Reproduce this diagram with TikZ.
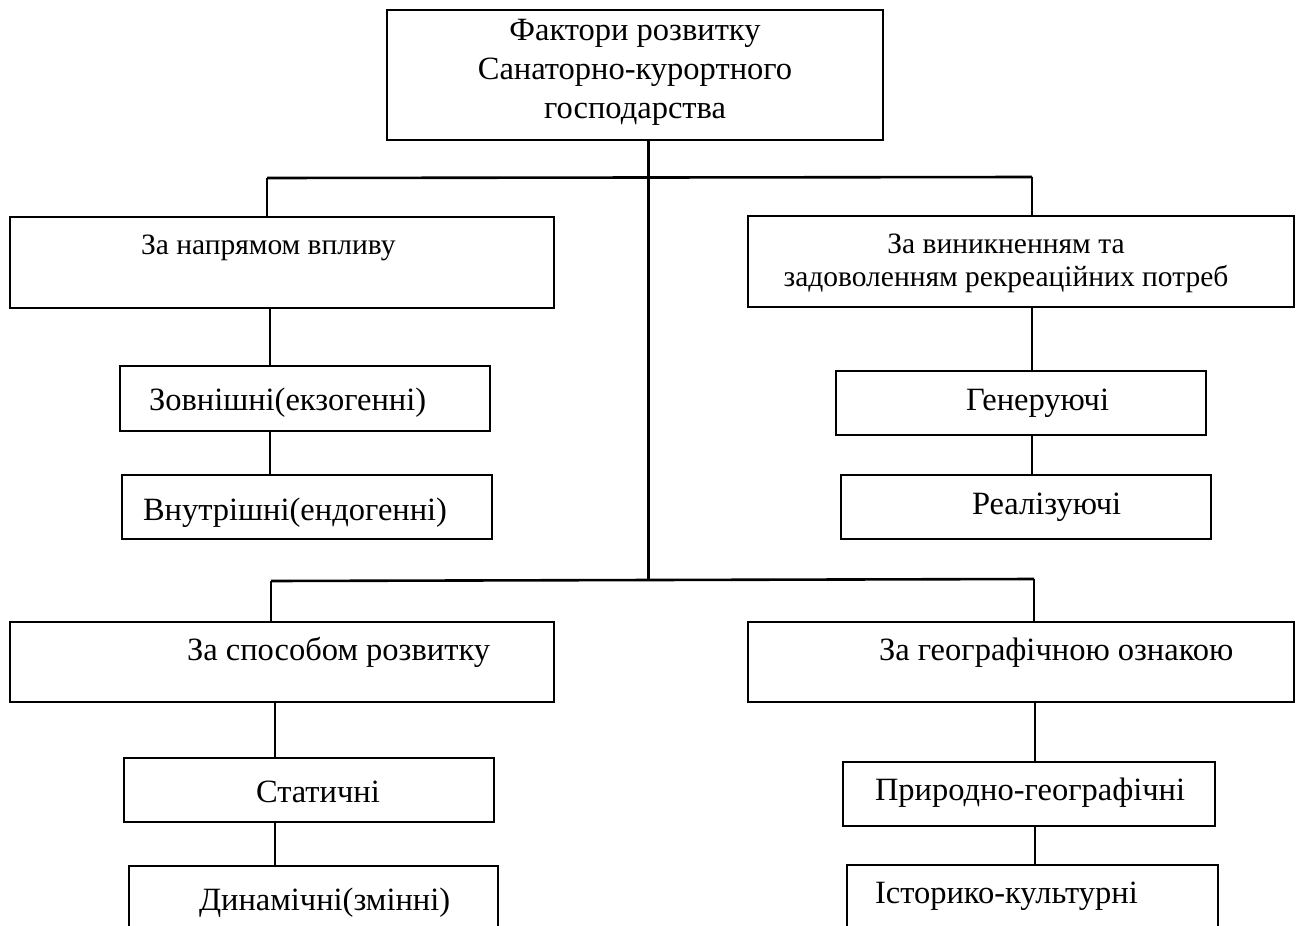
\documentclass[tikz,border=0pt]{standalone}
\usepackage{fontspec}
\setmainfont{Liberation Serif}
\begin{document}
\begin{tikzpicture}[x=1pt,y=-1pt,
  box/.style={draw,rectangle,line width=1.4pt,inner sep=0pt,outer sep=0pt},
  txt/.style={inner sep=0pt,outer sep=0pt,font=\rmfamily\fontsize{32.5}{39}\selectfont},
  smalltxt/.style={inner sep=0pt,outer sep=0pt,font=\rmfamily\fontsize{29.5}{33}\selectfont},
  thinln/.style={line width=1.8pt},
  thickln/.style={line width=3pt},
  busln/.style={line width=2.6pt}]
\useasboundingbox (0,0) rectangle (1296,926);
\clip (0,0) rectangle (1296,926);
% boxes
\node[box,line width=2.5pt,minimum width=496pt,minimum height=130pt] (t) at (635,75) {};
\node[box,minimum width=544pt,minimum height=91pt] (a1) at (282,262.5) {};
\node[box,minimum width=370pt,minimum height=65pt] (a2) at (305,398.5) {};
\node[box,minimum width=370pt,minimum height=64pt] (a3) at (307,507) {};
\node[box,minimum width=546pt,minimum height=91pt] (b1) at (1021,261.5) {};
\node[box,minimum width=370pt,minimum height=64pt] (b2) at (1021,403) {};
\node[box,minimum width=370pt,minimum height=64pt] (b3) at (1026,507) {};
\node[box,minimum width=544pt,minimum height=80pt] (c1) at (282,662) {};
\node[box,minimum width=370pt,minimum height=64pt] (c2) at (309,790) {};
\node[box,minimum width=369pt,minimum height=84pt] (c3) at (313.5,908) {};
\node[box,minimum width=546pt,minimum height=80pt] (d1) at (1021,662) {};
\node[box,minimum width=372pt,minimum height=64pt] (d2) at (1029,794) {};
\node[box,minimum width=371pt,minimum height=85pt] (d3) at (1032.5,907.5) {};
% texts
\node[txt,align=center,anchor=base] at (635,118) {Фактори розвитку\\Санаторно-курортного\\господарства};
\node[smalltxt,anchor=base west] at (141,254) {За напрямом впливу};
\node[txt,anchor=base west] at (149,410) {Зовнішні(екзогенні)};
\node[txt,anchor=base west] at (143,520) {Внутрішні(ендогенні)};
\node[smalltxt,align=center,anchor=base] at (1006,286) {За виникненням та\\задоволенням рекреаційних потреб};
\node[txt,anchor=base west] at (966,410) {Генеруючі};
\node[txt,anchor=base west] at (972,514) {Реалізуючі};
\node[txt,anchor=base west] at (187,660) {За способом розвитку};
\node[txt,anchor=base west] at (256,802) {Статичні};
\node[txt,anchor=base west] at (199,910) {Динамічні(змінні)};
\node[txt,anchor=base west] at (879,660) {За географічною ознакою};
\node[txt,anchor=base west] at (875,800) {Природно-географічні};
\node[txt,anchor=base west] at (875,903) {Історико-культурні};
% junction coordinates
\coordinate (m) at (648,0);
\coordinate (tl) at (267,178);
\coordinate (tr) at (1032,177);
\coordinate (ml) at (271,581);
\coordinate (mr) at (1034,579);
\coordinate (xa) at (270,0);
\coordinate (xb) at (1032,0);
\coordinate (xc) at (275,0);
\coordinate (xd) at (1035,0);
% connectors
\draw[thickln] (m |- t.south) -- (m |- ml);
\draw[busln] (tl) -- (tr);
\draw[thinln] (tl) -- (tl |- a1.north);
\draw[thinln] (tr) -- (tr |- b1.north);
\draw[busln] (ml) -- (mr);
\draw[thinln] (ml) -- (ml |- c1.north);
\draw[thinln] (mr) -- (mr |- d1.north);
\draw[thinln] (xa |- a1.south) -- (xa |- a2.north);
\draw[thinln] (xa |- a2.south) -- (xa |- a3.north);
\draw[thinln] (xb |- b1.south) -- (xb |- b2.north);
\draw[thinln] (xb |- b2.south) -- (xb |- b3.north);
\draw[thinln] (xc |- c1.south) -- (xc |- c2.north);
\draw[thinln] (xc |- c2.south) -- (xc |- c3.north);
\draw[thinln] (xd |- d1.south) -- (xd |- d2.north);
\draw[thinln] (xd |- d2.south) -- (xd |- d3.north);
\end{tikzpicture}
\end{document}
